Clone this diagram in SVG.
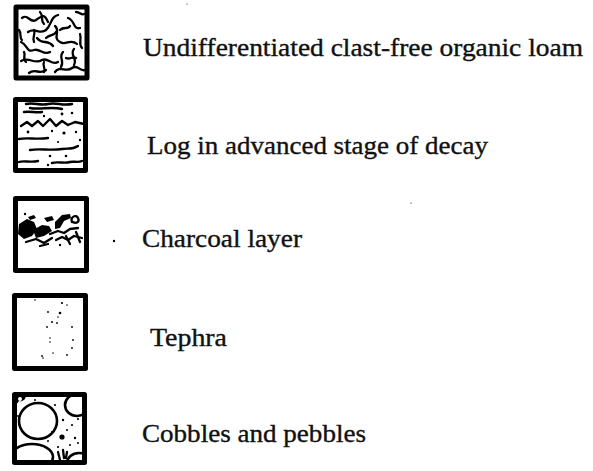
<svg xmlns="http://www.w3.org/2000/svg" width="593" height="471" viewBox="0 0 593 471">
<style>
.frame{fill:none;stroke:#000;stroke-width:5;stroke-linejoin:round}
.sq{fill:none;stroke:#000;stroke-width:2.3;stroke-linecap:round;stroke-linejoin:round}
.wv{fill:none;stroke:#000;stroke-width:2.4;stroke-linecap:round;stroke-linejoin:round}
.dot{fill:#000}
.lbl{font-family:"Liberation Serif","Times New Roman",serif;font-size:25px;fill:#111;stroke:#111;stroke-width:0.35}
.peb{fill:#fff;stroke:#000;stroke-width:2.6}
</style>
<defs>
<clipPath id="c1"><rect x="16" y="7" width="71" height="71"/></clipPath>
<clipPath id="c2"><rect x="15.5" y="99.5" width="70" height="71"/></clipPath>
<clipPath id="c3"><rect x="15.5" y="198.5" width="71" height="72"/></clipPath>
<clipPath id="c5"><rect x="14.5" y="394.5" width="70" height="68"/></clipPath>
</defs>
<rect width="593" height="471" fill="#fff"/>

<g id="loam">
<g clip-path="url(#c1)">
<path class="sq" d="M22 18 C28 13 30 24 36 20 S44 13 48 22"/>
<path class="sq" d="M28 32 C35 27 40 35 46 30 C52 25 50 17 58 15"/>
<path class="sq" d="M55 26 C61 31 52 38 60 42 C66 46 70 38 77 44"/>
<path class="sq" d="M21 42 C28 45 26 53 34 50 C40 48 44 56 50 52"/>
<path class="sq" d="M37 38 C42 45 48 39 53 46"/>
<path class="sq" d="M68 18 C75 20 73 30 80 28"/>
<path class="sq" d="M76 12 C80 12 82 16 84 14"/>
<path class="sq" d="M74 49 C69 55 78 58 74 65"/>
<path class="sq" d="M21 61 C29 56 34 65 42 60 C48 57 52 66 58 62"/>
<path class="sq" d="M29 73 C35 68 40 75 46 70"/>
<path class="sq" d="M55 72 C60 65 66 73 72 68 C78 64 80 72 85 70"/>
<path class="sq" d="M63 52 C58 58 65 60 61 67"/>
<path class="sq" d="M19 30 C22 34 19 37 22 40"/>
<path class="sq" d="M40 12 C44 16 40 20 44 24"/>
<path class="sq" d="M60 30 C64 26 68 30 70 26"/>
<path class="sq" d="M46 38 C50 34 54 36 56 32"/>
<path class="sq" d="M80 34 C82 40 78 44 82 48"/>
<path class="sq" d="M24 52 C26 56 22 58 26 62"/>
<path class="sq" d="M44 62 C42 66 46 68 44 72"/>
<path class="sq" d="M66 58 C70 60 72 56 76 58"/>
<path class="sq" d="M34 42 C32 36 36 34 34 30"/>
</g>
<rect class="frame" x="16" y="7" width="71" height="71"/>
</g>

<g id="log">
<g clip-path="url(#c2)">
<path class="wv" d="M26 104 C34 102 40 106 48 104 C56 102 62 106 72 104"/>
<path class="wv" d="M30 108 C40 110 52 106 62 109"/>
<path class="wv" d="M24 112 C30 111 36 113 42 112"/>
<path class="wv" d="M21 126 L27 122 L32 126 L38 121 L43 126 L50 119 L56 126 L62 121 L68 125 L75 122 L84 124"/>
<path class="wv" d="M19 139 C28 137 36 140 48 138"/>
<path class="wv" d="M30 150 C40 148 50 151 62 149 C68 148 72 150 78 146"/>
<path class="wv" d="M19 162 C24 160 30 163 38 161"/>
<path class="wv" d="M52 163 C58 161 64 164 70 162 C74 161 78 163 82 161"/>
<circle class="dot" cx="62" cy="114" r="1.4"/>
<circle class="dot" cx="44" cy="116" r="1.2"/>
<circle class="dot" cx="72" cy="113" r="1.3"/>
<circle class="dot" cx="28" cy="132" r="1.4"/>
<circle class="dot" cx="52" cy="131" r="1.2"/>
<circle class="dot" cx="64" cy="133" r="1.6"/>
<circle class="dot" cx="76" cy="132" r="1.2"/>
<circle class="dot" cx="58" cy="142" r="1.1"/>
<circle class="dot" cx="50" cy="156" r="1.3"/>
<circle class="dot" cx="66" cy="156" r="1.3"/>
<circle class="dot" cx="48" cy="165" r="1.2"/>
<circle class="dot" cx="80" cy="140" r="1.2"/>
</g>
<rect class="frame" x="15.5" y="99.5" width="70" height="71"/>
</g>

<g id="charcoal">
<g clip-path="url(#c3)">
<polygon class="dot" points="19,224 27,219 34,222 37,229 32,236 24,239 18,234"/>
<polygon class="dot" points="33,230 42,225 49,226 52,231 44,236 36,238"/>
<polygon class="dot" points="28,217 34,215 36,218 30,220"/>
<polygon class="dot" points="44,218 52,216 54,220 47,222"/>
<polygon class="dot" points="55,222 62,215 70,214 71,218 64,221 60,228 55,229"/>
<path class="sq" d="M72 222 C70 217 76 214 78 218 C80 222 76 224 73 222"/>
<path class="sq" d="M26 242 L36 239 L44 243 L52 238"/>
<path class="sq" d="M50 234 L58 231 L64 233 L70 229 L78 228"/>
<path class="sq" d="M56 240 L62 237 L68 240 L74 236 L82 238"/>
<path class="sq" d="M66 236 L70 244"/>
<path class="sq" d="M76 232 L80 242"/>
<path class="sq" d="M40 246 L48 244"/>
<circle class="dot" cx="25" cy="214" r="1.2"/>
<circle class="dot" cx="60" cy="245" r="1.2"/>
</g>
<rect class="frame" x="15.5" y="198.5" width="71" height="72"/>
</g>

<g id="tephra">
<rect class="frame" x="14.5" y="295.5" width="71" height="73"/>
<g class="dot">
<circle cx="62" cy="303" r="1.1"/><circle cx="60" cy="313" r="1.3"/><circle cx="48" cy="312" r="0.9"/>
<circle cx="52" cy="322" r="1"/><circle cx="47" cy="327" r="0.9"/><circle cx="57" cy="323" r="0.9"/>
<circle cx="72" cy="327" r="0.9"/><circle cx="50" cy="338" r="0.8"/><circle cx="73" cy="340" r="0.9"/>
<circle cx="50" cy="342" r="0.8"/><circle cx="72" cy="348" r="0.9"/><circle cx="53" cy="353" r="0.8"/>
<circle cx="67" cy="355" r="0.9"/><circle cx="42" cy="356" r="0.9"/><circle cx="43" cy="358" r="0.8"/>
<circle cx="35" cy="300" r="0.8"/><circle cx="67" cy="305" r="0.8"/><circle cx="58" cy="317" r="0.8"/>
</g>
</g>

<g id="cobbles">
<g clip-path="url(#c5)">
<ellipse class="peb" cx="38" cy="421" rx="19" ry="18"/>
<ellipse class="peb" cx="32" cy="457" rx="21" ry="13"/>
<ellipse class="peb" cx="77" cy="405" rx="12" ry="11"/>
<ellipse class="peb" cx="79" cy="463" rx="12" ry="10"/>
<path class="dot" d="M15 395 L26 395 C26 400 22 402 19 401 C17 404 15 405 15 405 Z"/>
<circle cx="20" cy="399" r="2" fill="#fff"/>
<circle class="dot" cx="62" cy="437" r="2.6"/>
<circle class="dot" cx="55" cy="405" r="1.1"/><circle class="dot" cx="63" cy="420" r="1.2"/>
<circle class="dot" cx="72" cy="425" r="1.1"/><circle class="dot" cx="78" cy="419" r="1.1"/>
<circle class="dot" cx="52" cy="432" r="1"/><circle class="dot" cx="75" cy="438" r="1.2"/>
<circle class="dot" cx="78" cy="443" r="1"/><circle class="dot" cx="48" cy="441" r="1"/>
<circle class="dot" cx="58" cy="447" r="1.1"/><circle class="dot" cx="70" cy="445" r="1"/>
<circle class="dot" cx="35" cy="400" r="1"/><circle class="dot" cx="19" cy="447" r="1"/>
<circle class="dot" cx="18" cy="416" r="1"/><circle class="dot" cx="67" cy="430" r="1"/>
<path class="sq" d="M58 452 L60 460 M63 450 L64 458 M67 452 L66 458"/>
</g>
<rect class="frame" x="14.5" y="394.5" width="70" height="68"/>
</g>

<g id="labels">
<text class="lbl" x="143" y="56" textLength="440" lengthAdjust="spacingAndGlyphs">Undifferentiated clast-free organic loam</text>
<text class="lbl" x="147" y="154" textLength="341" lengthAdjust="spacingAndGlyphs">Log in advanced stage of decay</text>
<text class="lbl" x="142" y="247" textLength="160" lengthAdjust="spacingAndGlyphs">Charcoal layer</text>
<text class="lbl" x="150" y="346" textLength="77" lengthAdjust="spacingAndGlyphs">Tephra</text>
<text class="lbl" x="142" y="442" textLength="224" lengthAdjust="spacingAndGlyphs">Cobbles and pebbles</text>
</g>
<g id="specks" class="dot">
<circle cx="114" cy="241" r="1.2"/>
<circle cx="187" cy="4" r="0.6"/>
<circle cx="411" cy="203" r="0.6"/>
</g>
</svg>
